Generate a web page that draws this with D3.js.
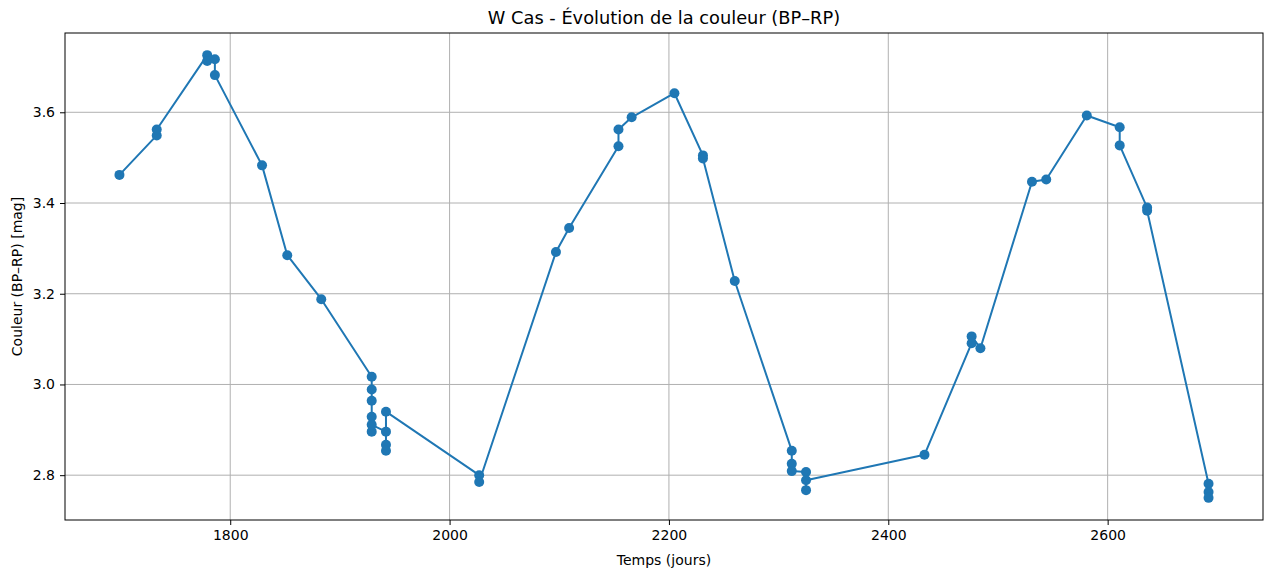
<!DOCTYPE html>
<html>
<head>
<meta charset="utf-8">
<script src="https://cdn.jsdelivr.net/npm/d3@7"></script>
<style>
  body { margin: 0; background: #fff; }
  svg text { font-family: "DejaVu Sans", sans-serif; fill: #000; }
</style>
</head>
<body>
<svg id="chart" width="1267" height="574"></svg>
<script>
// Data (days, BP-RP colour in mag), in recorded order
const days = [
  1699, 1733, 1733, 1779, 1779, 1786, 1786, 1829, 1852, 1883,
  1929, 1929, 1929, 1929, 1929, 1929,
  1942, 1942, 1942, 1942,
  2027, 2027, 2097, 2109, 2154, 2154, 2166, 2205, 2231, 2231, 2260,
  2312, 2312, 2312, 2325, 2325, 2325,
  2433, 2476, 2476, 2484, 2531, 2544, 2581, 2611, 2611, 2636, 2636,
  2692, 2692, 2692
];
const colours = [
  3.462, 3.549, 3.562, 3.726, 3.713, 3.717, 3.682, 3.483, 3.285, 3.188,
  3.017, 2.989, 2.964, 2.929, 2.896, 2.911,
  2.896, 2.867, 2.854, 2.940,
  2.800, 2.785, 3.292, 3.345, 3.525, 3.562, 3.589, 3.642, 3.505, 3.498, 3.228,
  2.854, 2.825, 2.809, 2.807, 2.767, 2.789,
  2.845, 3.091, 3.106, 3.080, 3.447, 3.452, 3.593, 3.567, 3.527, 3.390, 3.383,
  2.781, 2.763, 2.750
];
const xTicks = [1800, 2000, 2200, 2400, 2600];
const yTicks = [2.8, 3.0, 3.2, 3.4, 3.6];

const data = days.map((d, i) => ({ t: d, c: colours[i] }));

const svg = d3.select("#chart");
const m = { left: 65, right: 1263, top: 33, bottom: 520 };
const color = "#1f77b4";

function padded(ext) {
  const r = ext[1] - ext[0];
  return [ext[0] - 0.05 * r, ext[1] + 0.05 * r];
}
const x = d3.scaleLinear().domain(padded(d3.extent(days))).range([m.left, m.right]);
const y = d3.scaleLinear().domain(padded(d3.extent(colours))).range([m.bottom, m.top]);

// grid
const g = svg.append("g");
g.selectAll(".gx").data(xTicks).enter().append("line")
  .attr("x1", d => x(d)).attr("x2", d => x(d))
  .attr("y1", m.top).attr("y2", m.bottom)
  .attr("stroke", "#b0b0b0").attr("stroke-width", 1);
g.selectAll(".gy").data(yTicks).enter().append("line")
  .attr("y1", d => y(d)).attr("y2", d => y(d))
  .attr("x1", m.left).attr("x2", m.right)
  .attr("stroke", "#b0b0b0").attr("stroke-width", 1);

// line
svg.append("path").datum(data)
  .attr("fill", "none").attr("stroke", color).attr("stroke-width", 2)
  .attr("stroke-linejoin", "round")
  .attr("d", d3.line().x(d => x(d.t)).y(d => y(d.c)));

// points
svg.selectAll(".pt").data(data).enter().append("circle")
  .attr("cx", d => x(d.t)).attr("cy", d => y(d.c)).attr("r", 5)
  .attr("fill", color);

// axes
const xAxis = d3.axisBottom(x).tickValues(xTicks).tickFormat(d3.format("d")).tickSize(5).tickPadding(5);
const yAxis = d3.axisLeft(y).tickValues(yTicks).tickFormat(d3.format(".1f")).tickSize(5).tickPadding(5);
const ax = svg.append("g").attr("transform", `translate(0,${m.bottom})`).call(xAxis);
const ay = svg.append("g").attr("transform", `translate(${m.left},0)`).call(yAxis);
[ax, ay].forEach(a => {
  a.select(".domain").remove();
  a.selectAll("line").attr("stroke", "#000").attr("stroke-width", 1);
  a.selectAll("text").style("font-size", "14px").attr("fill", "#000");
});

// frame
svg.append("rect")
  .attr("x", m.left).attr("y", m.top)
  .attr("width", m.right - m.left).attr("height", m.bottom - m.top)
  .attr("fill", "none").attr("stroke", "#000").attr("stroke-width", 1);

// labels
svg.append("text").attr("x", (m.left + m.right) / 2).attr("y", 24)
  .attr("text-anchor", "middle").style("font-size", "17.8px")
  .text("W Cas - Évolution de la couleur (BP–RP)");
svg.append("text").attr("x", (m.left + m.right) / 2).attr("y", 565)
  .attr("text-anchor", "middle").style("font-size", "14px")
  .text("Temps (jours)");
svg.append("text").attr("transform", `translate(22,${(m.top + m.bottom) / 2}) rotate(-90)`)
  .attr("text-anchor", "middle").style("font-size", "14px")
  .text("Couleur (BP–RP) [mag]");
</script>
</body>
</html>
